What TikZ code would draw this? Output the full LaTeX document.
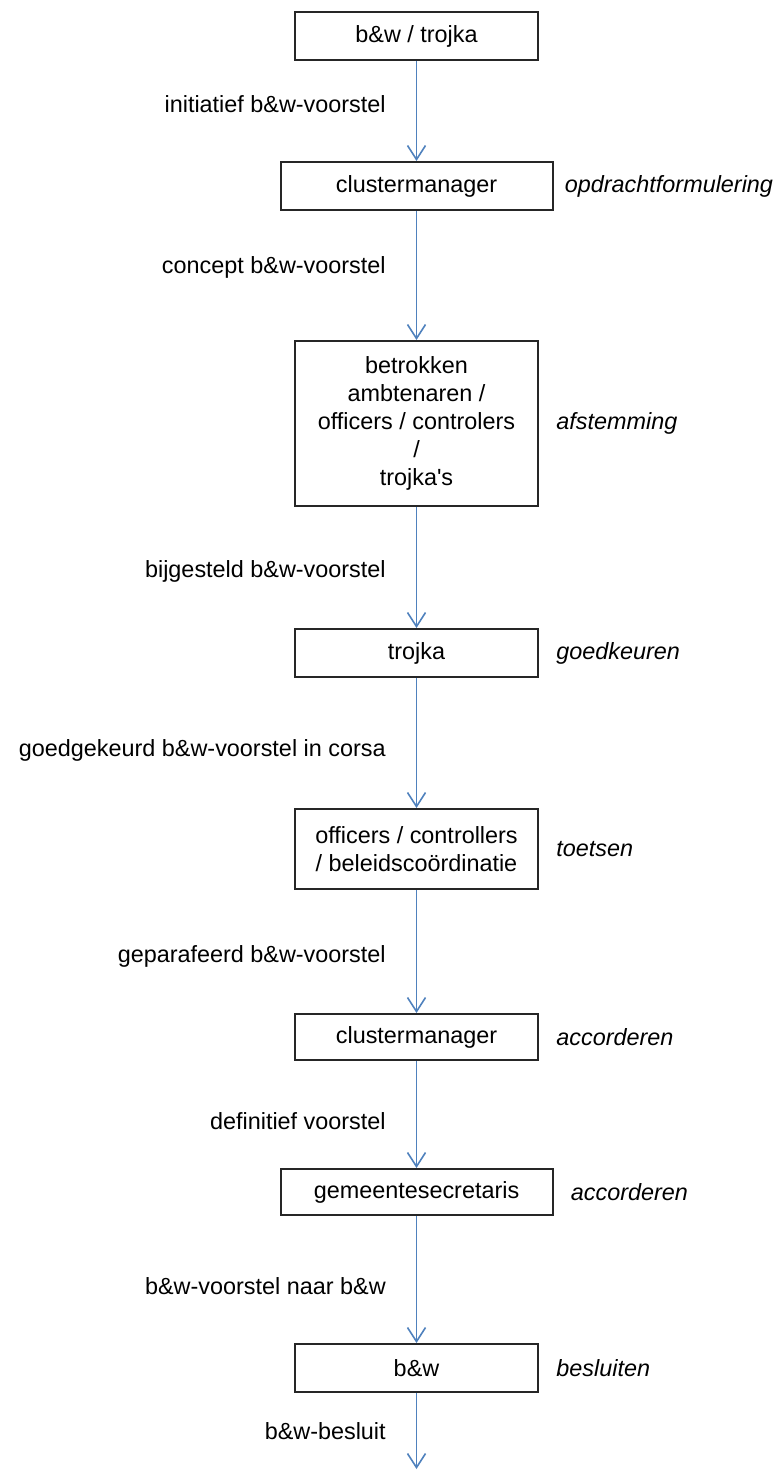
\documentclass[tikz,border=0pt]{standalone}
\usepackage{fontspec}
\setmainfont{Liberation Sans}
\usetikzlibrary{arrows.meta,positioning}
\definecolor{flowblue}{RGB}{79,129,189}
\definecolor{boxline}{gray}{0.15}

\begin{document}
\begin{tikzpicture}[
  x=0.5pt, y=-0.5pt,
  font=\fontsize{11.7}{14}\selectfont,
  actor/.style={draw=boxline, line width=1pt, align=center, minimum width=121.5pt, minimum height=24pt, inner sep=2pt},
  wide/.style={actor, minimum width=136pt},
  task/.style={font=\fontsize{11.7}{14}\selectfont\itshape, inner sep=0pt},
  arr/.style={-{Straight Barb[length=7pt, width=9pt]}, line width=0.8pt, draw=flowblue},
  lbl/.style={left=15pt, inner sep=0pt}
]
\useasboundingbox (0,0) rectangle (775,1470);
\node[actor] (bwtrojka) at (416.5,36) {b\&w / trojka};
\node[wide, below=50pt of bwtrojka] (cmA) {clustermanager};
\node[actor, minimum height=82.5pt, below=64.5pt of cmA] (betrokken) {betrokken\\ambtenaren /\\officers / controlers\\/\\trojka\textquotesingle s};
\node[actor, below=60.5pt of betrokken] (trojka) {trojka};
\node[actor, minimum height=40pt, below=65pt of trojka] (officers) {officers / controllers\\/ beleidscoördinatie};
\node[actor, minimum height=23pt, below=61.5pt of officers] (cmB) {clustermanager};
\node[wide, minimum height=23pt, below=53.5pt of cmB] (gemsec) {gemeentesecretaris};
\node[actor, below=63.5pt of gemsec] (bw) {b\&w};
\coordinate[below=38pt of bw] (uit);

\node[task, right=5.5pt of cmA] (formuleren) {opdrachtformulering};
\node[task, right=8.5pt of betrokken] (afstemmen) {afstemming};
\node[task, right=8.5pt of trojka] (goedkeuren) {goedkeuren};
\node[task, right=8.5pt of officers] (toetsen) {toetsen};
\node[task, right=8.5pt of cmB] (accorderenA) {accorderen};
\node[task, right=8.5pt of gemsec] (accorderenB) {accorderen};
\node[task, right=8.5pt of bw] (besluiten) {besluiten};

\draw[arr] (bwtrojka) -- node[lbl, pos=0.43] {initiatief b\&w-voorstel} (cmA);
\draw[arr] (cmA) -- node[lbl, pos=0.44] {concept b\&w-voorstel} (betrokken);
\draw[arr] (betrokken) -- node[lbl, pos=0.53] {bijgesteld b\&w-voorstel} (trojka);
\draw[arr] (trojka) -- node[lbl, pos=0.56] {goedgekeurd b\&w-voorstel in corsa} (officers);
\draw[arr] (officers) -- node[lbl, pos=0.54] {geparafeerd b\&w-voorstel} (cmB);
\draw[arr] (cmB) -- node[lbl, pos=0.56] {definitief voorstel} (gemsec);
\draw[arr] (gemsec) -- node[lbl, pos=0.55] {b\&w-voorstel naar b\&w} (bw);
\draw[arr] (bw) -- node[lbl, pos=0.5] {b\&w-besluit} (uit);
\end{tikzpicture}
\end{document}
